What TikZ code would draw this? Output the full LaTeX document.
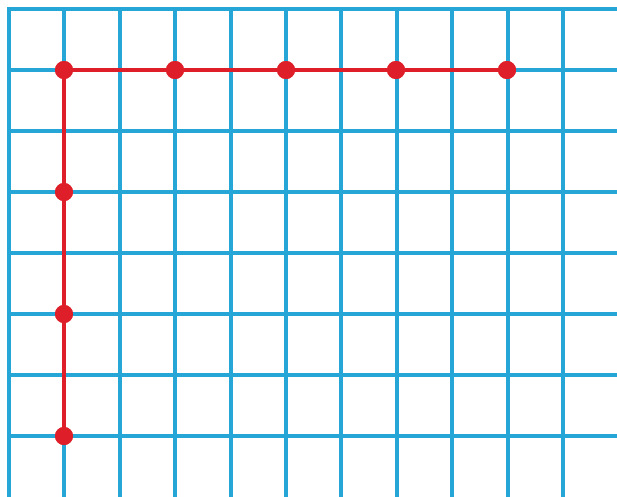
\documentclass[tikz,border=0pt]{standalone}
\definecolor{gridblue}{RGB}{38,166,214}
\definecolor{pathred}{RGB}{222,30,40}
\begin{document}
\begin{tikzpicture}[x=1pt,y=-1pt,
  gridline/.style={gridblue,line width=4pt},
  redline/.style={pathred,line width=4pt},
  dot/.style={circle,fill=pathred,inner sep=0pt,minimum size=18pt}]
\useasboundingbox (0,0) rectangle (617,496);
\fill[white] (0,0) rectangle (617,496);
\begin{scope}
\clip (0,0) rectangle (617,496);
\foreach \i in {0,...,10} {
  \draw[gridline] ({9+55.4*\i},7) -- ({9+55.4*\i},500);
}
\foreach \j in {0,...,7} {
  \draw[gridline] (7,{9+61*\j}) -- (620,{9+61*\j});
}
\end{scope}
\node[dot] (h1) at (64,70) {};
\node[dot] (h2) at (175,70) {};
\node[dot] (h3) at (286,70) {};
\node[dot] (h4) at (396,70) {};
\node[dot] (h5) at (507,70) {};
\node[dot] (v2) at (64,192) {};
\node[dot] (v3) at (64,314) {};
\node[dot] (v4) at (64,436) {};
\draw[redline] (v4.center) -- (h1.center) -- (h5.center);
\foreach \n in {h1,h2,h3,h4,h5,v2,v3,v4} {
  \fill[pathred] (\n) circle (9pt);
}
\end{tikzpicture}
\end{document}
